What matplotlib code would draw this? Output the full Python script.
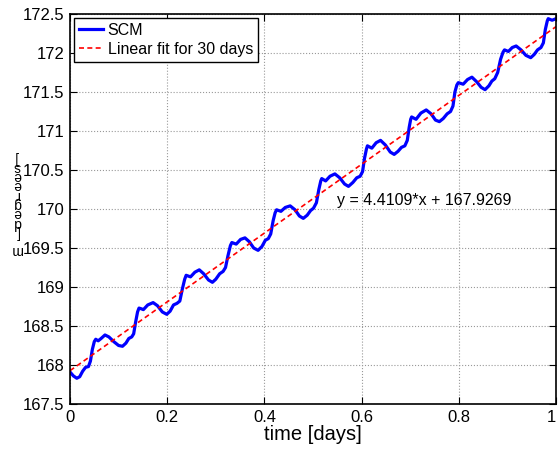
import matplotlib
matplotlib.use("Agg")
import matplotlib.pyplot as plt
import numpy as np

plt.rcParams['font.family'] = ['Liberation Sans', 'DejaVu Sans']

# SCM series (time in days, value in degrees)
scm_t = [0.000, 0.007, 0.014, 0.020, 0.026, 0.032, 0.038, 0.042, 0.046, 0.050,
         0.053, 0.058, 0.064, 0.072, 0.080, 0.090, 0.100, 0.108, 0.115, 0.121,
         0.127, 0.131, 0.135, 0.139, 0.142, 0.147, 0.151, 0.160, 0.171, 0.180,
         0.190, 0.199, 0.206, 0.213, 0.220, 0.226, 0.231, 0.236, 0.239, 0.248,
         0.257, 0.266, 0.275, 0.285, 0.293, 0.300, 0.308, 0.315, 0.320, 0.325,
         0.330, 0.333, 0.342, 0.351, 0.360, 0.369, 0.378, 0.387, 0.395, 0.402,
         0.408, 0.413, 0.418, 0.422, 0.425, 0.434, 0.443, 0.453, 0.463, 0.472,
         0.480, 0.488, 0.495, 0.501, 0.507, 0.512, 0.516, 0.518, 0.526, 0.535,
         0.545, 0.555, 0.565, 0.573, 0.582, 0.590, 0.597, 0.602, 0.606, 0.610,
         0.612, 0.621, 0.630, 0.639, 0.649, 0.659, 0.667, 0.675, 0.682, 0.689,
         0.694, 0.698, 0.701, 0.703, 0.712, 0.722, 0.733, 0.743, 0.752, 0.760,
         0.768, 0.776, 0.783, 0.788, 0.792, 0.796, 0.799, 0.809, 0.818, 0.827,
         0.837, 0.846, 0.854, 0.862, 0.868, 0.874, 0.880, 0.886, 0.891, 0.894,
         0.902, 0.910, 0.918, 0.928, 0.938, 0.948, 0.955, 0.962, 0.969, 0.974,
         0.978, 0.982, 0.984, 0.992, 1.000]
scm_y = [167.91, 167.86, 167.83, 167.85, 167.92, 167.97, 167.98, 168.05, 168.20, 168.30,
         168.33, 168.31, 168.34, 168.385, 168.36, 168.30, 168.25, 168.24, 168.28, 168.34,
         168.36, 168.40, 168.55, 168.68, 168.73, 168.72, 168.71, 168.77, 168.80, 168.76,
         168.68, 168.65, 168.69, 168.77, 168.79, 168.82, 168.97, 169.10, 169.15, 169.13,
         169.19, 169.22, 169.17, 169.09, 169.06, 169.10, 169.17, 169.20, 169.25, 169.40,
         169.53, 169.57, 169.55, 169.61, 169.63, 169.58, 169.50, 169.47, 169.52, 169.60,
         169.62, 169.68, 169.85, 169.95, 169.99, 169.97, 170.02, 170.04, 169.99, 169.91,
         169.88, 169.92, 169.98, 170.01, 170.08, 170.25, 170.36, 170.39, 170.36, 170.42,
         170.45, 170.40, 170.32, 170.29, 170.34, 170.40, 170.42, 170.48, 170.65, 170.77,
         170.81, 170.78, 170.85, 170.88, 170.82, 170.73, 170.70, 170.74, 170.79, 170.81,
         170.88, 171.05, 171.15, 171.18, 171.15, 171.23, 171.27, 171.22, 171.14, 171.12,
         171.16, 171.22, 171.25, 171.32, 171.50, 171.59, 171.62, 171.60, 171.66, 171.69,
         171.63, 171.56, 171.53, 171.58, 171.64, 171.67, 171.75, 171.92, 172.01, 172.04,
         172.02, 172.07, 172.09, 172.04, 171.97, 171.94, 171.98, 172.04, 172.07, 172.13,
         172.30, 172.41, 172.44, 172.42, 172.44]

# linear fit endpoints (y = 4.4109*x + 167.9269)
fit_t = [0.0, 1.0]
fit_y = [167.9269, 172.3378]
fit_label = 'y = 4.4109*x + 167.9269'

x_ticks = [0, 0.2, 0.4, 0.6, 0.8, 1]
x_ticklabels = ['0', '0.2', '0.4', '0.6', '0.8', '1']
y_ticks = [167.5, 168, 168.5, 169, 169.5, 170, 170.5, 171, 171.5, 172, 172.5]
y_ticklabels = ['167.5', '168', '168.5', '169', '169.5', '170', '170.5',
                '171', '171.5', '172', '172.5']

fig = plt.figure(figsize=(5.59, 4.49), dpi=100)
ax = fig.add_axes([70/559, 45/449, 486/559, 390/449])

ax.plot(scm_t, scm_y, color='#0000ff', lw=2.3, label='SCM', solid_joinstyle='round')
ax.plot(fit_t, fit_y, color='#ff0000', lw=1.2, ls=(0, (3, 2)), label='Linear fit for 30 days')

ax.set_xlim(0, 1)
ax.set_ylim(167.5, 172.5)
ax.set_xticks(x_ticks)
ax.set_xticklabels(x_ticklabels)
ax.set_yticks(y_ticks)
ax.set_yticklabels(y_ticklabels)
ax.tick_params(direction='in', length=5, width=0.8, labelsize=12,
               top=True, right=True, pad=4)
ax.grid(True, ls=':', color='#999999', lw=0.8)
for s in ax.spines.values():
    s.set_linewidth(1.2)

# keep the last x tick label inside the figure
ax.get_xticklabels()[-1].set_horizontalalignment('right')

ax.set_xlabel('time [days]', fontsize=14.5, labelpad=0)

ax.text(0.549, 170.05, fit_label, fontsize=11.5, va='baseline', ha='left')

leg = ax.legend(loc='upper left', bbox_to_anchor=(0.0082, 0.9897), borderaxespad=0,
                fontsize=11.5, fancybox=False, edgecolor='black', framealpha=1,
                handlelength=1.5, handletextpad=0.3, borderpad=0.3, labelspacing=0.25)
leg.get_frame().set_linewidth(1.0)

# odd stacked y label as it appears in the reference
fig.text(17/559, 1 - 204/449, 'm\n \n[\nd\ne\ng\nr\ne\ne\ns\n]', rotation=180,
         ha='center', va='center', fontsize=10, linespacing=0.57, multialignment='center')

fig.savefig('out.png', dpi=100)
